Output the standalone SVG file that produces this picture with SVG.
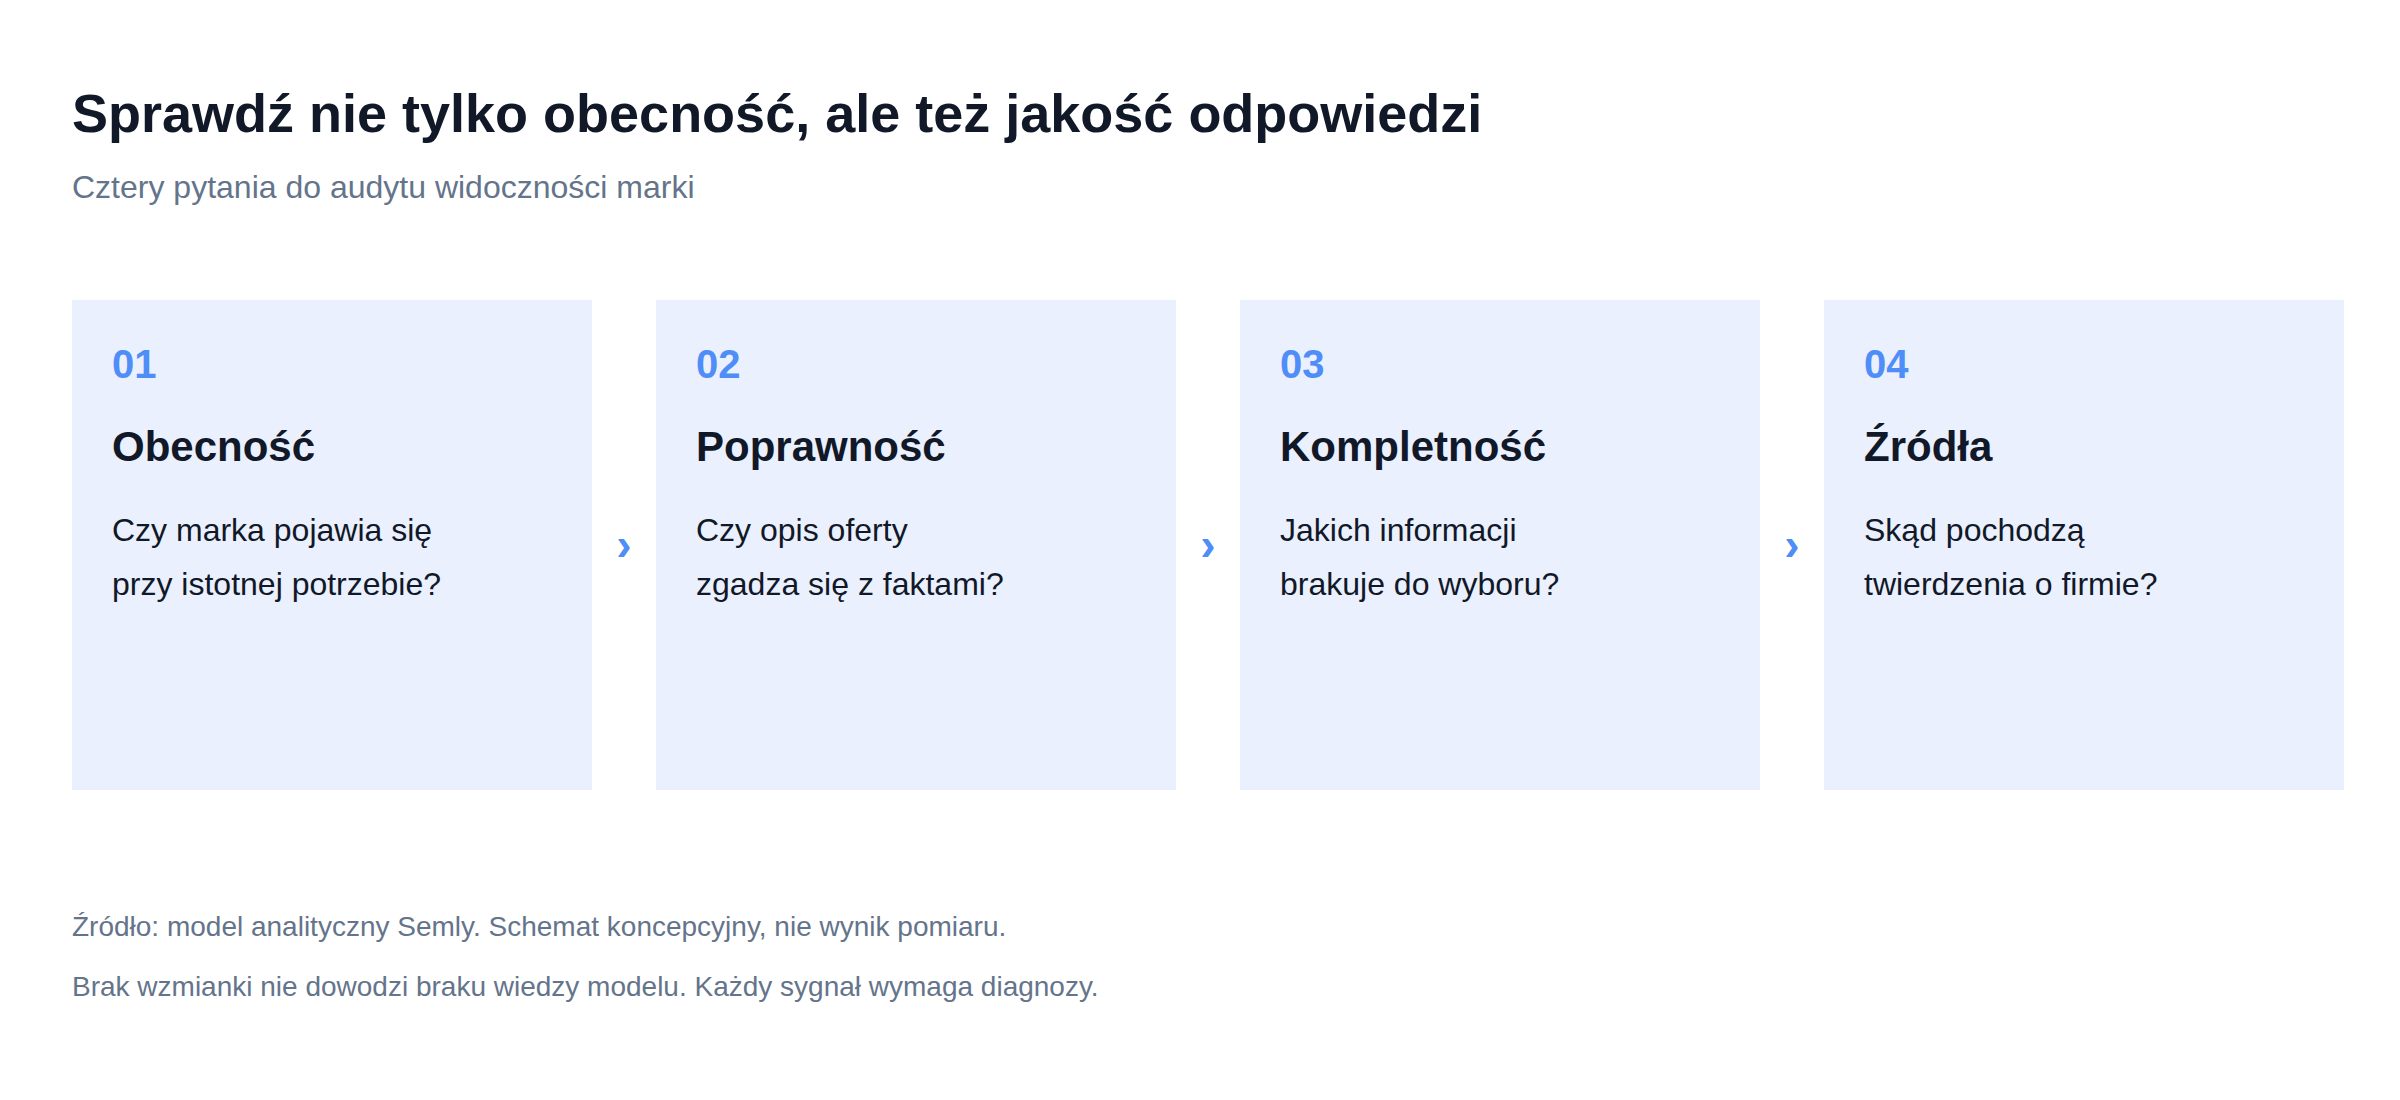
<svg xmlns="http://www.w3.org/2000/svg" width="2400" height="1100" viewBox="0 0 2400 1100">
<style>
.t{font-family:"Liberation Sans",Arial,sans-serif}
.title{font-size:54px;font-weight:700;fill:#111827}
.sub{font-size:32px;fill:#64748b}
.card{fill:#eaf0fe}
.num{font-size:40px;font-weight:700;fill:#4f8df7}
.head{font-size:42px;font-weight:700;fill:#111827}
.body{font-size:32px;fill:#111827}
.chev{font-size:46px;font-weight:700;fill:#4f8df7;text-anchor:middle}
.foot{font-size:28px;fill:#64748b}
</style>
<rect width="2400" height="1100" fill="#ffffff"/>
<text class="t title" x="72" y="132">Sprawdź nie tylko obecność, ale też jakość odpowiedzi</text>
<text class="t sub" x="72" y="198">Cztery pytania do audytu widoczności marki</text>
<g id="node1">
<rect class="card" x="72" y="300" width="520" height="490"/>
<text class="t num" x="112" y="378">01</text>
<text class="t head" x="112" y="461">Obecność</text>
<text class="t body" x="112" y="541">Czy marka pojawia się</text>
<text class="t body" x="112" y="595">przy istotnej potrzebie?</text>
</g>
<g id="node2">
<rect class="card" x="656" y="300" width="520" height="490"/>
<text class="t num" x="696" y="378">02</text>
<text class="t head" x="696" y="461">Poprawność</text>
<text class="t body" x="696" y="541">Czy opis oferty</text>
<text class="t body" x="696" y="595">zgadza się z faktami?</text>
</g>
<g id="node3">
<rect class="card" x="1240" y="300" width="520" height="490"/>
<text class="t num" x="1280" y="378">03</text>
<text class="t head" x="1280" y="461">Kompletność</text>
<text class="t body" x="1280" y="541">Jakich informacji</text>
<text class="t body" x="1280" y="595">brakuje do wyboru?</text>
</g>
<g id="node4">
<rect class="card" x="1824" y="300" width="520" height="490"/>
<text class="t num" x="1864" y="378">04</text>
<text class="t head" x="1864" y="461">Źródła</text>
<text class="t body" x="1864" y="541">Skąd pochodzą</text>
<text class="t body" x="1864" y="595">twierdzenia o firmie?</text>
</g>
<g id="connectors">
<text class="t chev" x="624" y="560">›</text>
<text class="t chev" x="1208" y="560">›</text>
<text class="t chev" x="1792" y="560">›</text>
</g>
<text class="t foot" x="72" y="936">Źródło: model analityczny Semly. Schemat koncepcyjny, nie wynik pomiaru.</text>
<text class="t foot" x="72" y="996">Brak wzmianki nie dowodzi braku wiedzy modelu. Każdy sygnał wymaga diagnozy.</text>
</svg>
